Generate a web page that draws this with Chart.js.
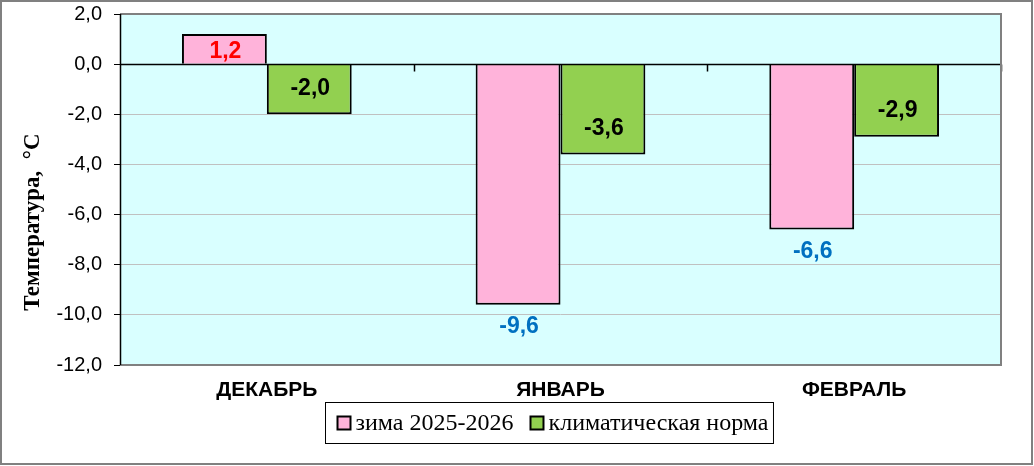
<!DOCTYPE html>
<html>
<head>
<meta charset="utf-8">
<script src="https://cdn.jsdelivr.net/npm/chart.js@4"></script>
<style>
  body { margin: 0; background: #fff; }
  #wrap { position: relative; width: 1029px; height: 461px; border: 2px solid #808080; }
</style>
</head>
<body>
<div id="wrap"><canvas id="chart"></canvas></div>
<script>
var months = ['ДЕКАБРЬ', 'ЯНВАРЬ', 'ФЕВРАЛЬ'];
var winter = [1.2, -9.6, -6.6];
var norm = [-2.0, -3.6, -2.9];
var seriesNames = ['зима 2025-2026', 'климатическая норма'];
var yMin = -12, yMax = 2, yStep = 2;
var yTitle = 'Температура,  °С';

function fmt(v) {
  return v.toFixed(1).replace('.', ',');
}

// background, frame, zero line ticks, labels, legend
var excelLook = {
  id: 'excelLook',
  beforeDraw: function (chart) {
    var a = chart.chartArea, ctx = chart.ctx;
    ctx.save();
    ctx.fillStyle = '#d9ffff';
    ctx.fillRect(a.left, a.top, a.right - a.left, a.bottom - a.top);
    ctx.restore();
  },
  afterDatasetsDraw: function (chart) {
    var a = chart.chartArea, ctx = chart.ctx;
    var x = chart.scales.x, y = chart.scales.y;
    ctx.save();
    // zero line + tick marks between categories
    var y0 = Math.round(y.getPixelForValue(0)) + 0.5;
    ctx.strokeStyle = '#000';
    ctx.lineWidth = 1.5;
    ctx.beginPath();
    ctx.moveTo(a.left, y0);
    ctx.lineTo(a.right, y0);
    var step = (a.right - a.left) / months.length;
    for (var i = 1; i <= months.length; i++) {
      var tx = Math.round(x.getPixelForValue(i - 1) + step / 2) + 0.5;
      ctx.moveTo(tx, y0);
      ctx.lineTo(tx, y0 + 7);
    }
    ctx.stroke();

    // plot frame
    ctx.strokeStyle = '#808080';
    ctx.lineWidth = 2;
    ctx.beginPath();
    ctx.moveTo(a.left, a.top);
    ctx.lineTo(a.right, a.top);
    ctx.lineTo(a.right, a.bottom);
    ctx.lineTo(a.left, a.bottom);
    ctx.stroke();
    ctx.strokeStyle = '#000';
    ctx.lineWidth = 1.5;
    ctx.beginPath();
    ctx.moveTo(a.left + 0.5, a.top);
    ctx.lineTo(a.left + 0.5, a.bottom);
    ctx.stroke();

    // value labels
    ctx.font = 'bold 23px "Liberation Sans", Arial, sans-serif';
    ctx.textAlign = 'center';
    ctx.textBaseline = 'middle';
    chart.data.datasets.forEach(function (ds, di) {
      var meta = chart.getDatasetMeta(di);
      meta.data.forEach(function (bar, i) {
        var v = ds.data[i];
        var ly, col;
        if (di === 0) {
          if (v >= 0) { ly = bar.y + 18; col = '#ff0000'; }
          else { ly = bar.y + 22; col = '#0070c0'; }
        } else {
          ly = bar.y - 26; col = '#000';
        }
        ctx.fillStyle = col;
        ctx.fillText(fmt(v), bar.x + 1, ly);
      });
    });

    // axis title
    ctx.font = 'bold 23px "Liberation Serif", "Times New Roman", serif';
    ctx.fillStyle = '#000';
    ctx.translate(31, 220);
    ctx.rotate(-Math.PI / 2);
    ctx.fillText(yTitle, 0, 0);
    ctx.restore();

    // legend
    ctx.save();
    ctx.font = '24px "Liberation Serif", "Times New Roman", serif';
    ctx.textBaseline = 'middle';
    ctx.textAlign = 'left';
    var box = 13, gap = 5, between = 17, padL = 12, padR = 5;
    var w0 = ctx.measureText(seriesNames[0]).width;
    var w1 = ctx.measureText(seriesNames[1]).width;
    var inner = box + gap + w0 + between + box + gap + w1;
    var total = inner + padL + padR;
    var bx = Math.round(547 - total / 2) + 0.5, by = 400.5, bh = 41;
    ctx.strokeStyle = '#000';
    ctx.lineWidth = 1;
    ctx.strokeRect(bx, by, total, bh);
    var cy = by + bh / 2;
    var cx = bx + padL;
    chart.data.datasets.forEach(function (ds, di) {
      ctx.fillStyle = ds.backgroundColor;
      ctx.fillRect(cx, cy - box / 2, box, box);
      ctx.lineWidth = 2;
      ctx.strokeRect(cx, cy - box / 2, box, box);
      ctx.fillStyle = '#000';
      ctx.fillText(ds.label, cx + box + gap, cy + 1);
      cx += box + gap + (di === 0 ? w0 : w1) + between;
    });
    ctx.restore();
  }
};

var chart = new Chart(document.getElementById('chart'), {
  type: 'bar',
  data: {
    labels: months,
    datasets: [
      {
        label: seriesNames[0],
        data: winter,
        backgroundColor: '#ffb3da',
        borderColor: '#000',
        borderWidth: 2
      },
      {
        label: seriesNames[1],
        data: norm,
        backgroundColor: '#92d050',
        borderColor: '#000',
        borderWidth: 2
      }
    ]
  },
  options: {
    responsive: true,
    maintainAspectRatio: false,
    animation: false,
    layout: { padding: { top: 0, right: 30, left: 0, bottom: 0 } },
    datasets: { bar: { categoryPercentage: 0.578, barPercentage: 1 } },
    plugins: {
      legend: { display: false },
      tooltip: { enabled: false }
    },
    scales: {
      x: {
        grid: { display: false, drawTicks: false },
        border: { display: false },
        ticks: {
          color: '#000',
          padding: 13,
          font: { family: '"Liberation Sans", Arial, sans-serif', size: 21, weight: 'bold' }
        },
        afterFit: function (s) { s.height = 98; }
      },
      y: {
        min: yMin,
        max: yMax,
        grid: {
          color: '#c0c0c0',
          tickColor: '#000',
          tickLength: 6,
          lineWidth: 1
        },
        border: { display: false },
        ticks: {
          stepSize: yStep,
          color: '#000',
          padding: 12,
          font: { family: '"Liberation Sans", Arial, sans-serif', size: 20 },
          callback: function (v) { return fmt(v); }
        },
        afterFit: function (s) {
          s.width = 118;
          s.paddingTop = 12;
          s.paddingBottom = 0;
        }
      }
    }
  },
  plugins: [excelLook]
});
</script>
</body>
</html>
